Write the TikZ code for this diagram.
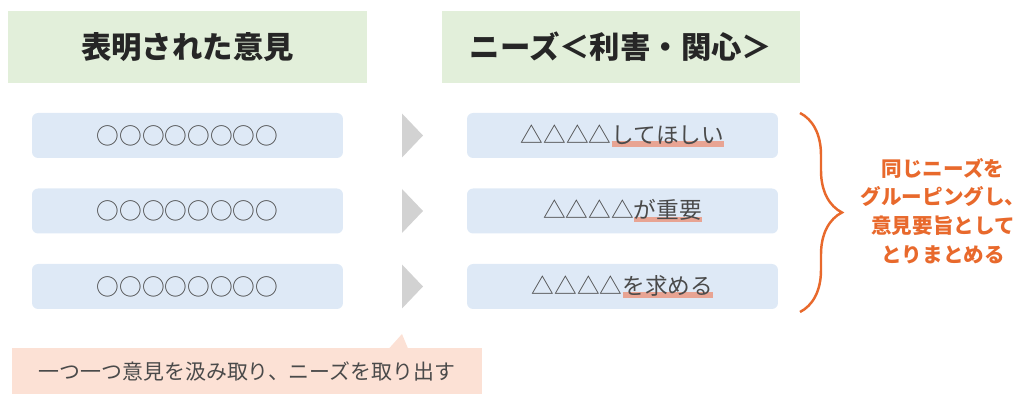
\documentclass[tikz,border=0pt]{standalone}
\usepackage{fontspec}
\usepackage{xcolor}
\setmainfont{Noto Sans CJK JP}
\usetikzlibrary{decorations.pathreplacing}

\definecolor{headgreen}{HTML}{E2EFDA}
\definecolor{itemblue}{HTML}{DEE9F6}
\definecolor{arrowgray}{HTML}{D2D2D2}
\definecolor{braceorange}{HTML}{E8692C}
\definecolor{callpink}{HTML}{FCE1D5}
\definecolor{hlsalmon}{HTML}{E8A493}
\definecolor{textgray}{HTML}{4A4A4A}

% salmon underline behind the need part
\newcommand{\hlpart}[1]{\setbox0\hbox{#1}\rlap{\textcolor{hlsalmon}{\rule[-0.16em]{\wd0}{0.26em}}}\box0}

\tikzset{
  headbox/.style={fill=headgreen, minimum width=7.18cm, minimum height=1.44cm,
    font=\fontsize{17.3}{20}\selectfont\bfseries, text=black!85},
  itembox/.style={fill=itemblue, rounded corners=0.12cm, minimum width=6.22cm,
    minimum height=0.9cm, font=\fontsize{12.9}{15}\selectfont, text=textgray},
  callbox/.style={fill=callpink, minimum width=9.4cm, minimum height=0.92cm,
    font=\fontsize{11.9}{14}\selectfont, text=textgray},
  notetext/.style={align=center, text=braceorange,
    font=\fontsize{11.7}{16.3}\selectfont\bfseries}
}

\begin{document}
\begin{tikzpicture}[x=0.02cm, y=-0.02cm]
\useasboundingbox (0,0) rectangle (1029,394);

% headers
\node[headbox] (hopinion) at (187.5,47) {表明された意見};
\node[headbox, minimum width=7.16cm] (hneeds) at (621,47) {ニーズ＜利害・関心＞};

% rows
\node[itembox] (op1) at (187.5,135.5) {○○○○○○○○};
\node[itembox] (op2) at (187.5,211) {○○○○○○○○};
\node[itembox] (op3) at (187.5,286.5) {○○○○○○○○};
\node[itembox] (nd1) at (622.5,135.5) {△△△△\hlpart{してほしい}};
\node[itembox] (nd2) at (622.5,211) {△△△△\hlpart{が重要}};
\node[itembox] (nd3) at (622.5,286.5) {△△△△\hlpart{を求める}};

% gray arrows between the rows
\foreach \y in {135.5,211,286.5}
  \fill[arrowgray] (402,\y-22) -- (423,\y) -- (402,\y+22) -- cycle;

% brace and note
\coordinate (btop) at (800,113);
\coordinate (bbot) at (800,312);
\draw[braceorange, line width=1.4pt, decorate,
  decoration={brace, amplitude=0.84cm}] (btop) -- (bbot);
\node[notetext] (note) at (943,211)
  {同じニーズを\\グルーピングし、\\意見要旨として\\とりまとめる};

% callout
\node[callbox] (call) at (247,371) {一つ一つ意見を汲み取り、ニーズを取り出す};
\fill[callpink] (389,348.5) -- (402,334) -- (408,348.5) -- cycle;
\end{tikzpicture}
\end{document}
